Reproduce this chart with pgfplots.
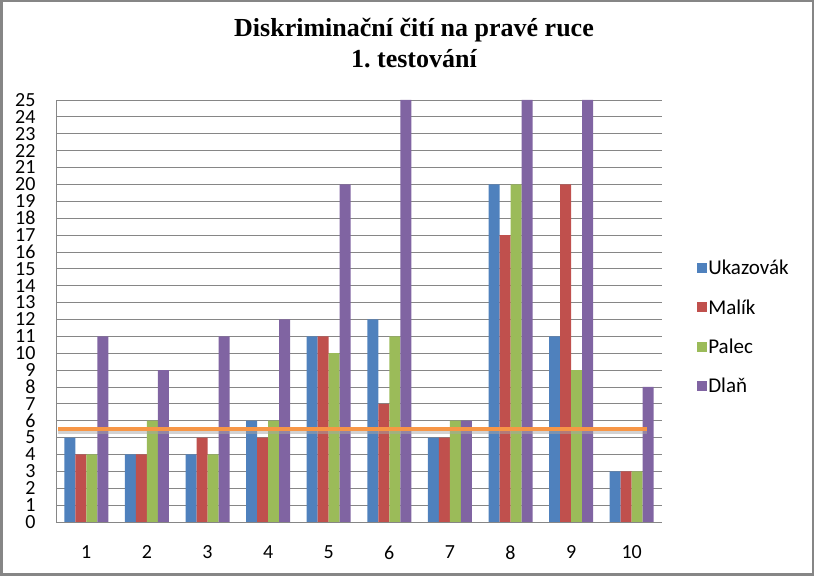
\documentclass[border=0pt]{standalone}
\usepackage{pgfplots}
\pgfplotsset{compat=1.18}
\usepackage{fontspec}
\setmainfont{Carlito}
\newfontfamily\titlefont{Liberation Serif}
\definecolor{cA}{HTML}{4F81BD}
\definecolor{cB}{HTML}{C0504D}
\definecolor{cC}{HTML}{9BBB59}
\definecolor{cD}{HTML}{8064A2}
\definecolor{cO}{HTML}{F79646}
\definecolor{gridc}{HTML}{868686}
\frenchspacing
\begin{document}
\begin{tikzpicture}[x=1bp,y=1bp]
\draw[gridc, line width=2.5bp] (1.25,1.25) rectangle (812.75,574.75);
\begin{axis}[
  at={(56bp,54bp)}, anchor=south west,
  scale only axis, width=606bp, height=422bp,
  xmin=0.5, xmax=10.5, ymin=0, ymax=25,
  xtick={1,...,10}, ytick={0,...,25},
  ybar=0pt, bar width=11bp,
  axis x line*=bottom, axis y line*=left,
  axis line style={gridc, line width=0.8bp, -},
  ymajorgrids, grid style={gridc, line width=0.8bp},
  major tick length=0pt,
  tick label style={font=\fontsize{20bp}{20bp}\selectfont},
  yticklabel style={xshift=-17bp, inner ysep=1bp},
  xticklabel style={yshift=-20bp},
  /pgf/number format/assume math mode=true,
  title={Diskriminační čití na pravé ruce\\1.\ testování},
  title style={align=center, font=\titlefont\bfseries\fontsize{26bp}{31bp}\selectfont, yshift=23bp, xshift=55bp},
  legend style={at={(1.053,0.462)}, anchor=west, draw=none, fill=none,
    font=\fontsize{21bp}{21bp}\selectfont, row sep=21bp,
    nodes={inner sep=1bp}},
  legend cell align=left,
  legend image code/.code={\fill[#1] (0bp,-5bp) rectangle (10bp,5bp);},
]
\addplot[fill=cA, draw=none] coordinates {(1,5) (2,4) (3,4) (4,6) (5,11) (6,12) (7,5) (8,20) (9,11) (10,3)};
\addplot[fill=cB, draw=none] coordinates {(1,4) (2,4) (3,5) (4,5) (5,11) (6,7) (7,5) (8,17) (9,20) (10,3)};
\addplot[fill=cC, draw=none] coordinates {(1,4) (2,6) (3,4) (4,6) (5,10) (6,11) (7,6) (8,20) (9,9) (10,3)};
\addplot[fill=cD, draw=none] coordinates {(1,11) (2,9) (3,11) (4,12) (5,20) (6,25) (7,6) (8,25) (9,25) (10,8)};
\legend{Ukazovák,Malík,Palec,Dlaň}
\addplot[sharp plot, draw=black!35, line width=4bp, opacity=0.5, forget plot, yshift=-2.5bp] coordinates {(0.53,5.5) (10.25,5.5)};
\addplot[sharp plot, draw=cO, line width=4bp, forget plot] coordinates {(0.53,5.5) (10.25,5.5)};
\end{axis}
\end{tikzpicture}
\end{document}
